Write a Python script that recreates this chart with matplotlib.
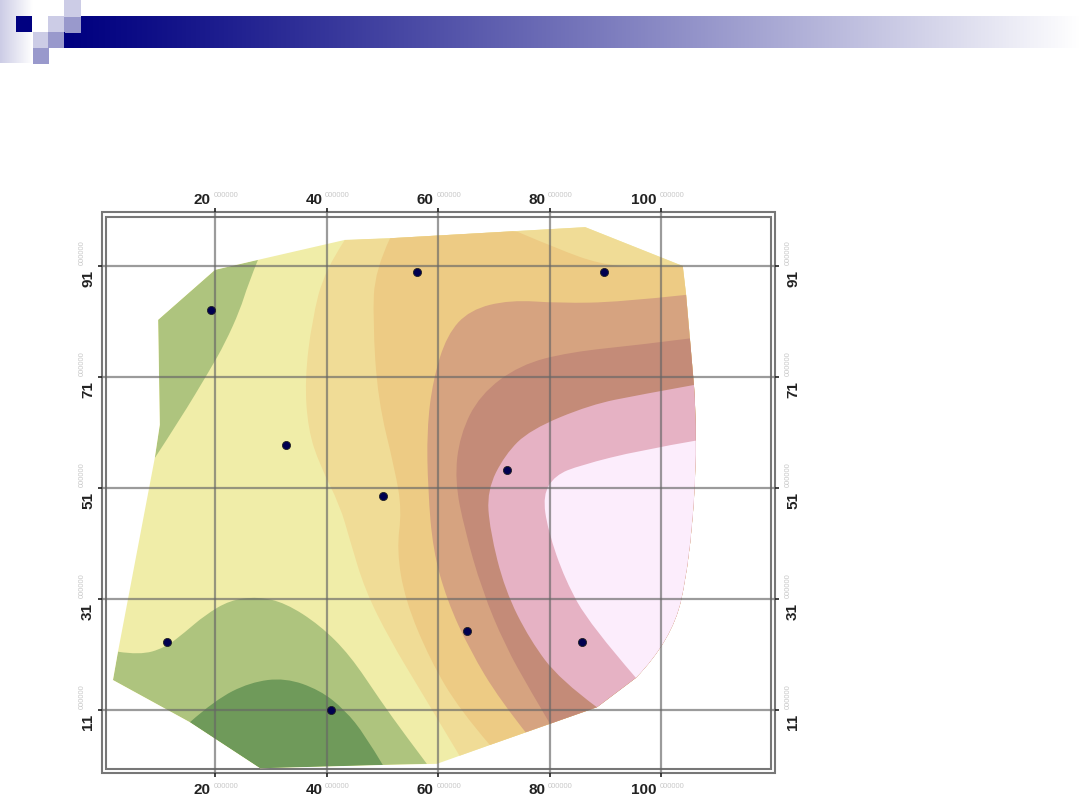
import numpy as np
import matplotlib
matplotlib.use('Agg')
import matplotlib.pyplot as plt
from matplotlib.patches import PathPatch, Rectangle
from matplotlib.path import Path

plt.rcParams['font.family'] = ['Liberation Sans', 'DejaVu Sans']

# axis ticks
x_ticks = [20, 40, 60, 80, 100]
y_ticks = [11, 31, 51, 71, 91]
tiny_label = '000000'

# sample points
point_x = [19.3, 56.2, 89.8, 32.7, 72.4, 50.1, 65.2, 85.8, 11.4, 40.8]
point_y = [83.1, 89.9, 89.9, 58.7, 54.2, 49.6, 25.2, 23.3, 23.3, 11.0]

# outline of the interpolated surface
hull_x = [1.7, 2.6, 9.2, 10.1, 9.8, 20.0, 27.7, 43.3, 51.4, 86.4, 103.9, 104.5, 105.9, 106.6, 105.2, 102.0, 95.5, 88.5, 69.3, 59.8, 50.1, 28.1, 15.5]
hull_y = [16.4, 21.5, 56.4, 62.4, 81.3, 90.3, 92.1, 95.7, 96.0, 98.0, 91.0, 85.8, 69.6, 60.0, 38.0, 23.6, 16.8, 11.5, 4.7, 1.3, 1.1, 0.5, 8.8]

# band boundaries, every band is clipped by the outline
green_top_x = [9.8, 20.0, 27.7, 25.9, 24.5, 21.8, 19.1, 13.7, 9.2, 10.1]
green_top_y = [81.3, 90.3, 92.1, 87.6, 83.1, 77.1, 72.3, 63.3, 56.4, 62.4]
green_low_x = [2.6, 6.5, 11.0, 14.6, 18.2, 22.7, 27.7, 32.6, 38.8, 44.2, 49.6, 54.1, 58.0, 28.1, 15.5, 1.7]
green_low_y = [21.5, 20.9, 22.2, 25.0, 28.1, 30.8, 31.4, 30.3, 26.3, 20.9, 12.8, 6.5, 1.3, 0.5, 8.8, 16.4]
dark_x = [15.5, 20.0, 26.3, 32.6, 38.8, 43.3, 46.9, 50.1, 28.1]
dark_y = [8.8, 12.8, 16.0, 16.8, 14.6, 11.0, 6.5, 1.1, 0.5]
pale_orange_x = [43.3, 39.7, 37.4, 36.1, 36.7, 38.8, 42.4, 44.2, 46.9, 51.4, 56.8, 63.9, 120, 120]
pale_orange_y = [95.7, 90.3, 81.3, 70.5, 61.5, 55.1, 47.9, 41.6, 32.6, 23.6, 14.6, 2.7, 0, 100]
orange_x = [51.4, 48.7, 48.3, 49.2, 52.3, 53.5, 52.6, 54.1, 58.6, 63.9, 69.3, 120, 120, 103.9, 96.2, 88.9, 81.9, 74.4, 60]
orange_y = [96.0, 90.3, 81.3, 66.9, 54.2, 47.0, 39.8, 30.8, 20.0, 11.0, 4.7, 0, 91.0, 91.0, 90.6, 91.4, 93.9, 97.1, 100]
tan_x = [120, 104.5, 92.6, 81.9, 72.9, 65.7, 61.6, 59.1, 58.0, 58.2, 59.1, 61.6, 65.7, 71.1, 76.1, 120]
tan_y = [85.8, 85.8, 84.5, 84.3, 84.9, 83.1, 78.6, 70.5, 61.5, 50.6, 39.8, 30.8, 21.8, 12.8, 6.5, 0]
brown_x = [120, 105.6, 96.2, 83.7, 74.7, 67.5, 63.9, 63.0, 64.8, 67.9, 72.0, 76.5, 80.1, 120]
brown_y = [78.0, 78.0, 76.8, 75.5, 73.2, 67.8, 60.5, 52.4, 43.4, 32.6, 22.7, 14.6, 8.5, 0]
pink_x = [120, 106.1, 96.2, 87.3, 76.5, 72.0, 68.8, 69.3, 72.0, 76.5, 81.9, 88.5, 120]
pink_y = [69.6, 69.6, 67.8, 66.0, 61.5, 57.0, 50.6, 43.4, 32.6, 23.6, 16.4, 11.5, 0]
white_x = [120, 106.6, 96.2, 85.5, 81.0, 78.8, 79.7, 82.8, 87.3, 95.5, 120]
white_y = [59.6, 59.6, 57.8, 55.1, 53.3, 49.7, 43.4, 34.4, 26.3, 16.8, 0]

# colour, and which vertices stay sharp corners
bands = [
    (green_top_x, green_top_y, '#aec47e', [0, 1, 2, 8, 9]),
    (green_low_x, green_low_y, '#aec47e', [0, 12, 13, 14, 15]),
    (dark_x, dark_y, '#6f9a5a', [0, 7, 8]),
    (pale_orange_x, pale_orange_y, '#f0dc96', [0, 11, 12, 13]),
    (orange_x, orange_y, '#edcb84', [0, 10, 11, 12, 13, 17, 18]),
    (tan_x, tan_y, '#d6a380', [0, 1, 14, 15]),
    (brown_x, brown_y, '#c48b78', [0, 1, 12, 13]),
    (pink_x, pink_y, '#e6b2c4', [0, 1, 11, 12]),
    (white_x, white_y, '#fcedfc', [0, 1, 9, 10]),
]
hull_round = [13, 14, 15]


def band_path(xs, ys, sharp):
    # quadratic curves through the midpoints, vertex 0 has to be sharp
    pts = np.column_stack([xs, ys])
    n = len(pts)
    verts = [pts[0]]
    codes = [Path.MOVETO]
    for i in range(1, n):
        p = pts[i]
        if i in sharp:
            verts.append(p)
            codes.append(Path.LINETO)
        else:
            nxt = (i + 1) % n
            end = pts[nxt] if nxt in sharp else (p + pts[nxt]) / 2
            verts += [p, end]
            codes += [Path.CURVE3, Path.CURVE3]
    verts.append(pts[0])
    codes.append(Path.CLOSEPOLY)
    return Path(verts, codes)


W, H = 1080, 810
fig = plt.figure(figsize=(W / 100, H / 100), dpi=100)

# slide decoration, in pixels
bg = fig.add_axes([0, 0, 1, 1])
bg.axis('off')

navy = np.array([0, 0, 128]) / 255
fade = np.linspace(0, 1, 512) ** 1.15
bar = np.ones((1, 512, 3)) * navy + fade[None, :, None] * (1 - navy)
bg.imshow(bar, extent=(65, W, 48, 16), aspect='auto', zorder=1)
left = np.linspace(0.8, 1.0, 64)
block = np.stack([left, left, left * 0.5 + 0.5], axis=-1)[None, :, :]
bg.imshow(block, extent=(0, 33, 63, 0), aspect='auto', zorder=2)
bg.set_xlim(0, W)
bg.set_ylim(H, 0)
squares = [
    (16, 16, 16, '#000080'), (33, 0, 32, '#ffffff'), (48, 0, 16, '#ffffff'),
    (48, 16, 16, '#ccccE6'), (64, 16, 17, '#9999cc'), (64, 0, 17, '#ccccE6'),
    (33, 32, 16, '#ccccE6'), (48, 32, 16, '#9999cc'), (33, 48, 16, '#9999cc'),
]
for sx, sy, size, color in squares:
    bg.add_patch(Rectangle((sx, sy), size, size, fc=color, ec='none', zorder=3))
bg.add_patch(Rectangle((64, 32), 1, 16, fc='#000080', ec='none', zorder=3))

# frame in pixels
bg.add_patch(Rectangle((102, 212), 673, 561, fc='none', ec='#777777', lw=1.5, zorder=3))
bg.add_patch(Rectangle((106, 217), 665, 552, fc='none', ec='#777777', lw=1.5, zorder=3))

# map axes, px to data: 5.575 px per x unit and 5.55 px per y unit
x0 = 20 + (102 - 215) / 5.575
x1 = 20 + (775 - 215) / 5.575
y1 = 91 + (266 - 212) / 5.55
y0 = 91 - (773 - 266) / 5.55
ax = fig.add_axes([102 / W, 1 - 773 / H, 673 / W, 561 / H])
ax.set_xlim(x0, x1)
ax.set_ylim(y0, y1)
ax.patch.set_alpha(0)
for s in ax.spines.values():
    s.set_visible(False)

hull_sharp = [i for i in range(len(hull_x)) if i not in hull_round]
hull = PathPatch(band_path(hull_x, hull_y, hull_sharp), fc='#f0eda8', ec='none', zorder=1)
ax.add_patch(hull)
for bx, by, color, sharp in bands:
    p = PathPatch(band_path(bx, by, sharp), fc=color, ec='none', zorder=2)
    ax.add_patch(p)
    p.set_clip_path(hull)

for t in x_ticks:
    ax.axvline(t, color='#666666', alpha=0.65, lw=1.6, zorder=3)
for t in y_ticks:
    ax.axhline(t, color='#666666', alpha=0.65, lw=1.6, zorder=3)

ax.scatter(point_x, point_y, s=34, color='#000050', edgecolors='#222222', linewidths=0.6, zorder=4)

ax.set_xticks(x_ticks)
ax.set_yticks(y_ticks)
ax.tick_params(axis='both', which='both', length=3, width=1.2, color='#222222',
               top=True, right=True, labelbottom=False, labelleft=False)

# labels with the tiny grey suffix
big = dict(fontsize=11, fontweight='bold', color='#222222')
small = dict(fontsize=5.5, color='#c8c8c8')
for t in x_ticks:
    for yd, yo, yo2 in [(y1, 8.6, 12), (y0, -12, -9.5)]:
        ax.annotate(str(t), (t, yd), xytext=(-3, yo), textcoords='offset points', ha='right', va='center', **big)
        ax.annotate(tiny_label, (t, yd), xytext=(-1, yo2), textcoords='offset points', ha='left', va='center', **small)
for t in y_ticks:
    for xd, xo, xo2 in [(x0, -10, -14.4), (x1, 13, 9.4)]:
        ax.annotate(str(t), (xd, t), xytext=(xo, -3), textcoords='offset points', ha='center', va='top', rotation=90, **big)
        ax.annotate(tiny_label, (xd, t), xytext=(xo2, 1), textcoords='offset points', ha='center', va='bottom', rotation=90, **small)

fig.savefig('out.png', dpi=100)
